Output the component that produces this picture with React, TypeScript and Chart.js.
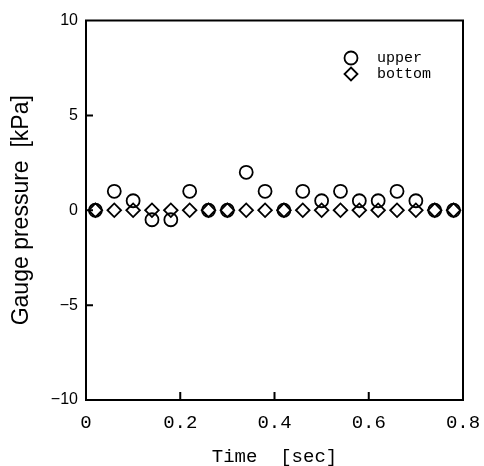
import React, { useEffect, useRef } from 'react';
import { Chart, registerables } from 'chart.js';

Chart.register(...registerables);

const TIMES = [0.02, 0.06, 0.10, 0.14, 0.18, 0.22, 0.26, 0.30, 0.34, 0.38, 0.42, 0.46, 0.50, 0.54, 0.58, 0.62, 0.66, 0.70, 0.74, 0.78];
const UPPER = [0, 1, 0.5, -0.5, -0.5, 1, 0, 0, 2, 1, 0, 1, 0.5, 1, 0.5, 0.5, 1, 0.5, 0, 0];
const BOTTOM = [0, 0, 0, 0, 0, 0, 0, 0, 0, 0, 0, 0, 0, 0, 0, 0, 0, 0, 0, 0];
const SERIES_NAMES = ['upper', 'bottom'];
const X_TICKS = [0, 0.2, 0.4, 0.6, 0.8];
const Y_TICKS = [-10, -5, 0, 5, 10];
const X_TITLE = 'Time  [sec]';
const Y_TITLE = 'Gauge pressure  [kPa]';

const MONO = '"Liberation Mono", "DejaVu Sans Mono", monospace';
const SANS = '"Liberation Sans", Arial, sans-serif';

const framePlugin = {
  id: 'frame',
  afterDraw(chart: any) {
    const { ctx, chartArea } = chart;
    const { left, right, top, bottom } = chartArea;
    const xs = chart.scales.x;
    const ys = chart.scales.y;
    ctx.save();
    ctx.strokeStyle = '#000';
    ctx.lineWidth = 2;
    ctx.strokeRect(left, top, right - left, bottom - top);
    ctx.beginPath();
    for (const v of X_TICKS) {
      const px = xs.getPixelForValue(v);
      if (px - left < 2 || right - px < 2) continue;
      ctx.moveTo(px, bottom);
      ctx.lineTo(px, bottom - 8);
    }
    for (const v of Y_TICKS) {
      const py = ys.getPixelForValue(v);
      if (py - top < 2 || bottom - py < 2) continue;
      ctx.moveTo(left, py);
      ctx.lineTo(left + 7, py);
    }
    ctx.stroke();

    // legend
    const lx = 351;
    const ly = [58, 74];
    const r = 6.5;
    ctx.lineWidth = 1.8;
    chart.data.datasets.forEach((ds: any, i: number) => {
      const y = ly[i];
      ctx.beginPath();
      if (ds.pointStyle === 'circle') {
        ctx.arc(lx, y, r, 0, Math.PI * 2);
      } else {
        ctx.moveTo(lx, y - r);
        ctx.lineTo(lx + r, y);
        ctx.lineTo(lx, y + r);
        ctx.lineTo(lx - r, y);
        ctx.closePath();
      }
      ctx.stroke();
      ctx.fillStyle = '#000';
      ctx.font = '15px ' + MONO;
      ctx.textBaseline = 'middle';
      ctx.textAlign = 'left';
      ctx.fillText(ds.label, 377, y);
    });
    ctx.restore();
  },
};

export default function App() {
  const ref = useRef<HTMLCanvasElement | null>(null);
  useEffect(() => {
    if (!ref.current) return;
    const chart = new Chart(ref.current, {
      type: 'scatter',
      data: {
        datasets: [
          {
            label: SERIES_NAMES[0],
            data: TIMES.map((t, i) => ({ x: t, y: UPPER[i] })),
            pointStyle: 'circle',
            pointRadius: 6.5,
            borderColor: '#000',
            backgroundColor: 'rgba(0,0,0,0)',
            borderWidth: 1.8,
          },
          {
            label: SERIES_NAMES[1],
            data: TIMES.map((t, i) => ({ x: t, y: BOTTOM[i] })),
            pointStyle: 'rectRot',
            pointRadius: 6.8,
            borderColor: '#000',
            backgroundColor: 'rgba(0,0,0,0)',
            borderWidth: 1.8,
          },
        ],
      },
      options: {
        responsive: false,
        animation: false,
        layout: { padding: { top: 20.5, right: 21, left: 0, bottom: 0 } },
        plugins: { legend: { display: false }, tooltip: { enabled: false } },
        scales: {
          x: {
            type: 'linear',
            min: 0,
            max: 0.8,
            afterBuildTicks: (s: any) => { s.ticks = X_TICKS.map((v) => ({ value: v })); },
            afterFit: (s: any) => { s.height = 66; s.paddingLeft = 0; s.paddingRight = 0; },
            grid: { display: false, drawTicks: false, tickLength: 0 },
            border: { display: false },
            ticks: {
              color: '#000',
              padding: 12,
              maxRotation: 0,
              font: { family: MONO, size: 19 },
              callback: (v: any) => String(v),
            },
            title: {
              display: true,
              text: X_TITLE,
              color: '#000',
              font: { family: MONO, size: 19, lineHeight: 1 },
              padding: { top: 0, bottom: 0 },
            },
          },
          y: {
            type: 'linear',
            min: -10,
            max: 10,
            afterBuildTicks: (s: any) => { s.ticks = Y_TICKS.map((v) => ({ value: v })); },
            afterFit: (s: any) => { s.width = 86; s.paddingTop = 0; s.paddingBottom = 0; },
            grid: { display: false, drawTicks: false, tickLength: 0 },
            border: { display: false },
            ticks: {
              color: '#000',
              padding: 8,
              font: { family: SANS, size: 16 },
              callback: (v: any) => (v < 0 ? '\u2212' + Math.abs(v) : String(v)),
            },
            title: {
              display: true,
              text: Y_TITLE,
              color: '#000',
              font: { family: SANS, size: 23, lineHeight: 1.2 },
              padding: { top: 8, bottom: 0 },
            },
          },
        },
      },
      plugins: [framePlugin],
    });
    return () => chart.destroy();
  }, []);
  return (
    <div style={{ position: 'fixed', left: 0, top: 0, width: 484, height: 466, background: '#fff' }}>
      <canvas ref={ref} width={484} height={466} />
    </div>
  );
}
